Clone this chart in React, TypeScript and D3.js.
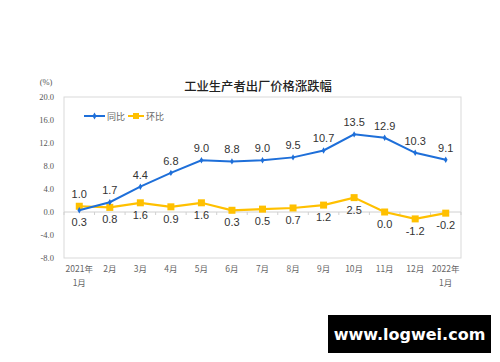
import React, { useEffect, useRef } from 'react';
import * as d3 from 'd3';

// 2021年1月 - 2022年1月 工业生产者出厂价格
const months = ['2021年\n1月', '2月', '3月', '4月', '5月', '6月', '7月', '8月', '9月', '10月', '11月', '12月', '2022年\n1月'];
const yoy = [0.3, 1.7, 4.4, 6.8, 9.0, 8.8, 9.0, 9.5, 10.7, 13.5, 12.9, 10.3, 9.1];
const mom = [1.0, 0.8, 1.6, 0.9, 1.6, 0.3, 0.5, 0.7, 1.2, 2.5, 0.0, -1.2, -0.2];
const yTicks = [-8, -4, 0, 4, 8, 12, 16, 20];

const BLUE = '#1e6fd9';
const YELLOW = '#ffc000';

const App = () => {
  const ref = useRef<SVGSVGElement>(null);

  useEffect(() => {
    const svg = d3.select(ref.current);
    svg.selectAll('*').remove();

    const left = 64, right = 461, top = 97, bottom = 258;

    svg.append('rect').attr('width', 500).attr('height', 362).attr('fill', '#fff');

    const x = d3.scaleBand<number>()
      .domain(d3.range(months.length))
      .range([left, right]);
    const cx = (i: number) => (x(i) as number) + x.bandwidth() / 2;

    const y = d3.scaleLinear().domain([-8, 20]).range([bottom, top]);

    // plot frame
    svg.append('rect')
      .attr('x', left).attr('y', top)
      .attr('width', right - left).attr('height', bottom - top)
      .attr('fill', 'none').attr('stroke', '#d9d9d9').attr('stroke-width', 1);

    // zero line with category ticks
    svg.append('line')
      .attr('x1', left).attr('x2', right)
      .attr('y1', y(0)).attr('y2', y(0))
      .attr('stroke', '#d0d0d0');
    svg.selectAll('.ctick')
      .data(d3.range(months.length + 1))
      .enter().append('line')
      .attr('x1', i => left + i * x.bandwidth())
      .attr('x2', i => left + i * x.bandwidth())
      .attr('y1', y(0)).attr('y2', y(0) + 3)
      .attr('stroke', '#d0d0d0');

    // y axis labels
    svg.selectAll('.ylab')
      .data(yTicks)
      .enter().append('text')
      .attr('x', 54).attr('y', d => y(d) + 3)
      .attr('text-anchor', 'end')
      .attr('font-family', '"Liberation Serif", serif')
      .attr('font-size', 8.5)
      .attr('fill', '#555')
      .text(d => d.toFixed(1));

    svg.append('text')
      .attr('x', 46).attr('y', 85)
      .attr('text-anchor', 'middle')
      .attr('font-family', '"Liberation Serif", serif')
      .attr('font-size', 8.5).attr('fill', '#555')
      .text('(%)');

    // x axis labels
    months.forEach((m, i) => {
      const lines = m.split('\n');
      const t = svg.append('text')
        .attr('text-anchor', 'middle')
        .attr('font-family', '"Noto Sans CJK SC", serif')
        .attr('font-size', 8.5)
        .attr('fill', '#666');
      lines.forEach((ln, k) => {
        t.append('tspan').attr('x', cx(i)).attr('y', 272 + k * 14).text(ln);
      });
    });

    // title
    svg.append('text')
      .attr('x', 258).attr('y', 91)
      .attr('text-anchor', 'middle')
      .attr('font-family', '"Noto Sans CJK SC", sans-serif')
      .attr('font-size', 12.3).attr('font-weight', 500).attr('fill', '#222')
      .text('工业生产者出厂价格涨跌幅');

    // legend
    const lg = svg.append('g').attr('font-family', '"Noto Sans CJK SC", sans-serif').attr('font-size', 9).attr('fill', '#666');
    lg.append('line').attr('x1', 84).attr('x2', 105).attr('y1', 116).attr('y2', 116).attr('stroke', BLUE).attr('stroke-width', 2);
    lg.append('path').attr('d', d3.symbol(d3.symbolDiamond, 14)()).attr('transform', 'translate(94.5,116)').attr('fill', BLUE);
    lg.append('text').attr('x', 107).attr('y', 119.5).text('同比');
    lg.append('line').attr('x1', 128).attr('x2', 144).attr('y1', 116).attr('y2', 116).attr('stroke', YELLOW).attr('stroke-width', 2);
    lg.append('rect').attr('x', 133).attr('y', 113).attr('width', 6).attr('height', 6).attr('fill', YELLOW);
    lg.append('text').attr('x', 146).attr('y', 119.5).text('环比');

    const line = d3.line<number>().x((_, i) => cx(i)).y(d => y(d));

    // 环比 series
    svg.append('path').datum(mom)
      .attr('d', line).attr('fill', 'none')
      .attr('stroke', YELLOW).attr('stroke-width', 2.2);
    svg.selectAll('.mm').data(mom).enter().append('rect')
      .attr('x', (_, i) => cx(i) - 3.5).attr('y', d => y(d) - 3.5)
      .attr('width', 7).attr('height', 7).attr('fill', YELLOW);

    // 同比 series
    svg.append('path').datum(yoy)
      .attr('d', line).attr('fill', 'none')
      .attr('stroke', BLUE).attr('stroke-width', 2);
    svg.selectAll('.ym').data(yoy).enter().append('path')
      .attr('d', d3.symbol(d3.symbolDiamond, 12)())
      .attr('transform', (d, i) => `translate(${cx(i)},${y(d)})`)
      .attr('fill', BLUE);

    // data labels: the higher of the two goes above, the lower below
    const labels = svg.append('g')
      .attr('font-family', '"Liberation Sans", Arial, sans-serif')
      .attr('font-size', 11).attr('fill', '#333')
      .attr('text-anchor', 'middle');
    months.forEach((_, i) => {
      const hi = Math.max(yoy[i], mom[i]);
      const lo = Math.min(yoy[i], mom[i]);
      labels.append('text').attr('x', cx(i)).attr('y', y(hi) - 8).text(hi.toFixed(1));
      labels.append('text').attr('x', cx(i)).attr('y', y(lo) + 16).text(lo.toFixed(1));
    });

    // watermark
    svg.append('rect').attr('x', 328).attr('y', 315).attr('width', 163).attr('height', 38).attr('fill', '#000');
    svg.append('text')
      .attr('x', 409.5).attr('y', 340)
      .attr('text-anchor', 'middle')
      .attr('font-family', '"DejaVu Sans", sans-serif')
      .attr('font-weight', 'bold')
      .attr('font-size', 16).attr('fill', '#fff')
      .text('www.logwei.com');
  }, []);

  return (
    <svg
      ref={ref}
      width={500}
      height={362}
      style={{ position: 'absolute', left: 0, top: 0, display: 'block' }}
    />
  );
};

export default App;
